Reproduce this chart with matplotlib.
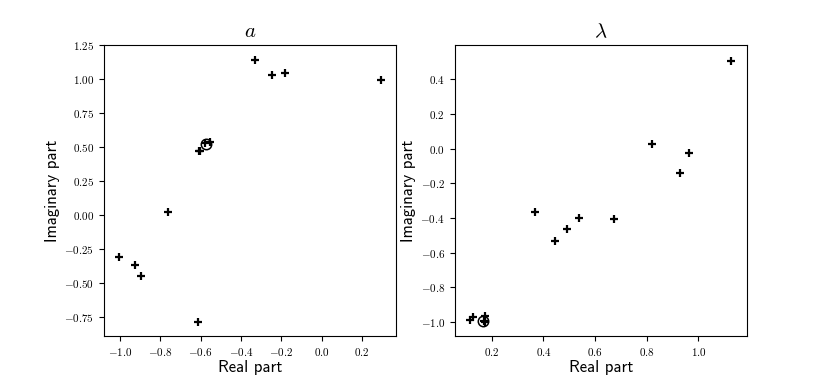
import matplotlib
matplotlib.use("Agg")
import matplotlib.pyplot as plt
from matplotlib.ticker import FuncFormatter, MultipleLocator

plt.rcParams["mathtext.fontset"] = "cm"
plt.rcParams["axes.unicode_minus"] = False

# eigenvalues of a (samples) and the reference value (circle)
aReal = [-0.328, -0.246, -0.180, 0.295, -0.762, -1.005, -0.927, -0.894, -0.612,
         -0.603, -0.608, -0.579, -0.554]
aImag = [1.144, 1.033, 1.048, 0.994, 0.023, -0.312, -0.373, -0.447, -0.792,
         0.474, 0.468, 0.529, 0.541]
aRefReal = [-0.576]
aRefImag = [0.523]

# eigenvalues of lambda (samples) and the reference value (circle)
lamReal = [1.126, 0.820, 0.965, 0.930, 0.367, 0.537, 0.672, 0.492, 0.443,
           0.114, 0.129, 0.174, 0.168, 0.172]
lamImag = [0.508, 0.027, -0.025, -0.142, -0.366, -0.400, -0.406, -0.462, -0.533,
           -0.986, -0.971, -0.965, -0.995, -1.000]
lamRefReal = [0.166]
lamRefImag = [-0.992]


def mathFormatter(decimals):
    return FuncFormatter(lambda v, pos: "$%.*f$" % (decimals, v))


fig, axes = plt.subplots(1, 2, figsize=(8.3, 3.78), dpi=100)

panels = [
    (axes[0], aReal, aImag, aRefReal, aRefImag, r"$a$", 0.2, 0.25, 1, 2),
    (axes[1], lamReal, lamImag, lamRefReal, lamRefImag, r"$\lambda$", 0.2, 0.2, 1, 1),
]

for ax, re, im, refRe, refIm, title, xStep, yStep, xDec, yDec in panels:
    ax.plot(re, im, linestyle="none", marker="+", color="black",
            markersize=5.5, markeredgewidth=1.6)
    ax.plot(refRe, refIm, linestyle="none", marker="o", markerfacecolor="none",
            markeredgecolor="black", markersize=7.5, markeredgewidth=1.1)
    ax.set_title(title, fontsize=15)
    ax.set_xlabel("Real part", family="cmss10", fontsize=12, labelpad=1)
    ax.set_ylabel("Imaginary part", family="cmss10", fontsize=12, labelpad=3)
    ax.xaxis.set_major_locator(MultipleLocator(xStep))
    ax.yaxis.set_major_locator(MultipleLocator(yStep))
    ax.xaxis.set_major_formatter(mathFormatter(xDec))
    ax.yaxis.set_major_formatter(mathFormatter(yDec))
    ax.tick_params(labelsize=8)

axes[0].set_xlim(-1.081, 0.37)
axes[0].set_ylim(-0.896, 1.25)
axes[1].set_xlim(0.056, 1.188)
axes[1].set_ylim(-1.083, 0.596)

fig.savefig("out.png")
